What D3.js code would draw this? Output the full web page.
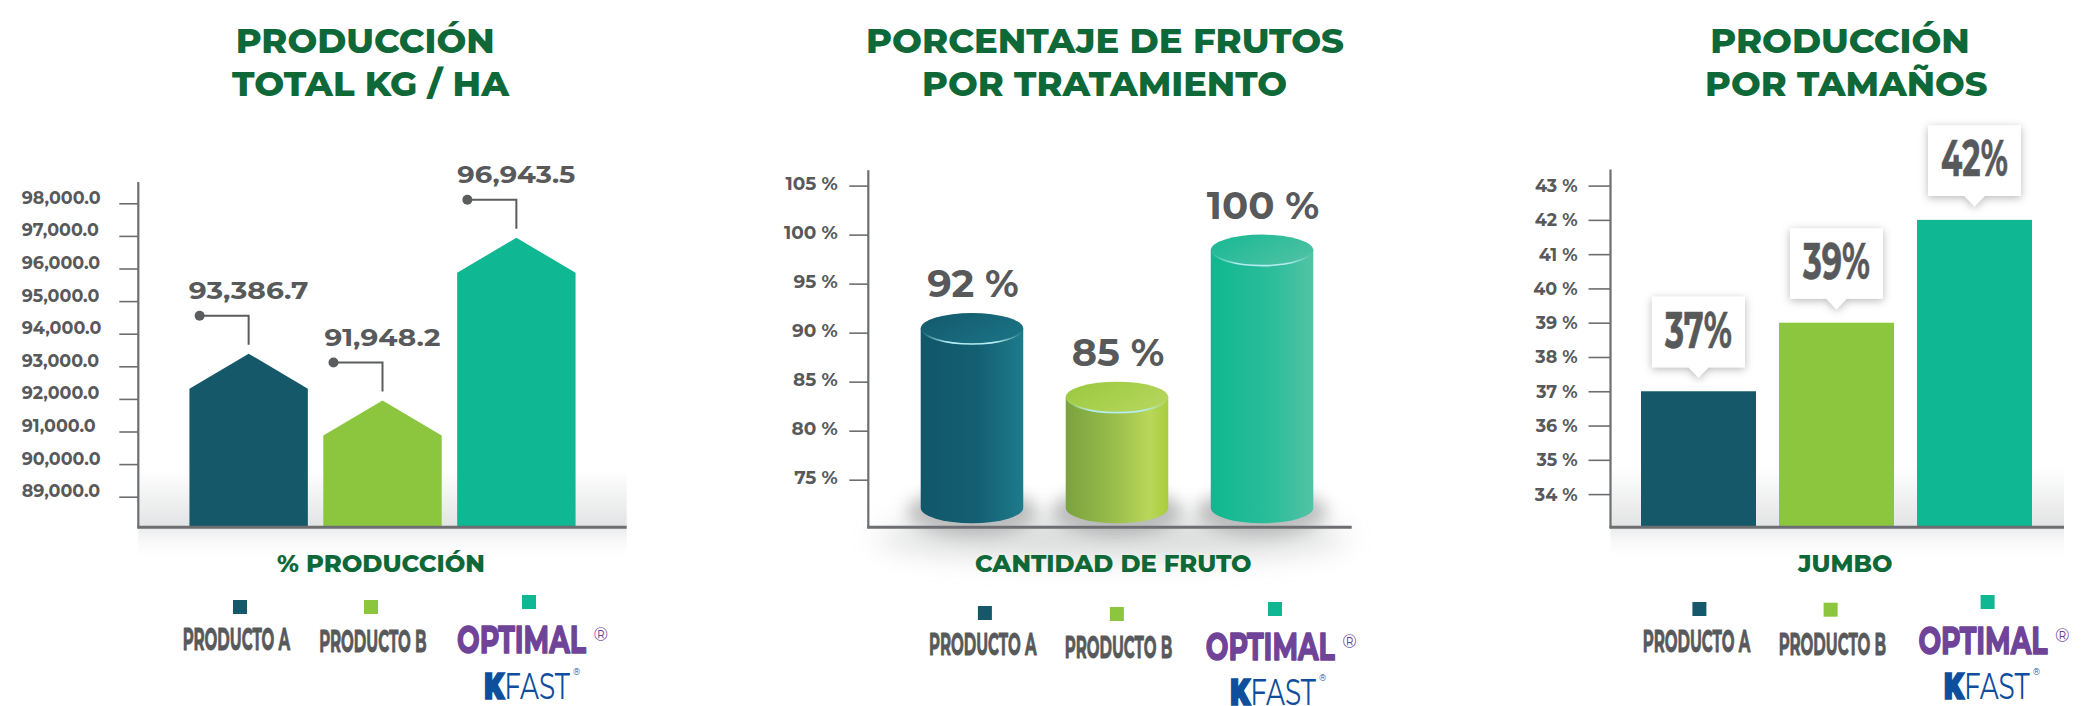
<!DOCTYPE html>
<html>
<head>
<meta charset="utf-8">
<script src="https://cdn.jsdelivr.net/npm/d3@7"></script>
<style>
  html, body { margin: 0; padding: 0; background: #fff; }
  svg { display: block; }
  text { font-family: "Montserrat", "Open Sans", sans-serif; }
</style>
</head>
<body>
<div id="root"></div>
<script>
// ---- datos ----
const products = ["PRODUCTO A", "PRODUCTO B", "OPTIMAL"];
const productColors = ["#14586a", "#8cc63f", "#0fb792"];

const kgValues = [93386.7, 91948.2, 96943.5];
const kgTicks = [89000, 90000, 91000, 92000, 93000, 94000, 95000, 96000, 97000, 98000];

const fruitValues = [92, 85, 100];
const fruitTicks = [75, 80, 85, 90, 95, 100, 105];

const jumboValues = [37, 39, 42];
const jumboTicks = [34, 35, 36, 37, 38, 39, 40, 41, 42, 43];

const titles = [
  ["PRODUCCIÓN", "TOTAL KG / HA"],
  ["PORCENTAJE DE FRUTOS", "POR TRATAMIENTO"],
  ["PRODUCCIÓN", "POR TAMAÑOS"]
];
const axisTitles = ["% PRODUCCIÓN", "CANTIDAD DE FRUTO", "JUMBO"];

// ---- estilos ----
const green = "#0e6838";
const labelGray = "#58595b";
const axisGray = "#6d6e71";
const baseY = 527.3;
const condensed = "'Liberation Sans Narrow', 'Roboto Condensed', 'Roboto', sans-serif";

window.onload = function() {
  init();
};

let fit = (sel, w) => sel.attr("textLength", w).attr("lengthAdjust", "spacingAndGlyphs");
// engrosar letra condensada
let heavy = (sel, c, sw) => sel.attr("stroke", c).attr("stroke-width", sw).attr("stroke-linejoin", "round");

let init = () => {
  const svg = d3
    .select("#root")
    .append("svg")
    .attr("width", 2095)
    .attr("height", 706);
  const defs = svg.append("defs");

  // sombras
  defs.append("filter").attr("id", "blur8")
    .attr("x", "-50%").attr("y", "-50%").attr("width", "200%").attr("height", "200%")
    .append("feGaussianBlur").attr("stdDeviation", 8);
  defs.append("filter").attr("id", "blur14")
    .attr("x", "-50%").attr("y", "-100%").attr("width", "200%").attr("height", "300%")
    .append("feGaussianBlur").attr("stdDeviation", 14);
  defs.append("filter").attr("id", "boxShadow")
    .attr("x", "-30%").attr("y", "-30%").attr("width", "160%").attr("height", "160%")
    .append("feDropShadow")
    .attr("dx", 0).attr("dy", 2).attr("stdDeviation", 4)
    .attr("flood-color", "#000").attr("flood-opacity", 0.28);

  let vGrad = (id, stops) => {
    const lg = defs.append("linearGradient").attr("id", id)
      .attr("x1", 0).attr("y1", 0).attr("x2", 0).attr("y2", 1);
    stops.forEach(s => lg.append("stop").attr("offset", s[0]).attr("stop-color", s[1]).attr("stop-opacity", s[2]));
  };
  vGrad("floorUp", [[0, "#e2e3e4", 0], [1, "#e2e3e4", 1]]);
  vGrad("floorDown", [[0, "#e9eaeb", 1], [1, "#ffffff", 0]]);

  // degradados de los cilindros
  const cylBody = [
    [[0, "#12566a"], [0.55, "#135f72"], [1, "#1d7b8b"]],
    [[0, "#7aa23e"], [0.5, "#9cbf4c"], [0.82, "#b9d75a"], [1, "#a8cd3c"]],
    [[0, "#0fb78f"], [0.6, "#2cbd9b"], [1, "#52c3a5"]]
  ];
  const cylTop = [
    [[0, "#13586b"], [1, "#1a7183"]],
    [[0, "#99c93e"], [1, "#b5d55c"]],
    [[0, "#16b893"], [1, "#4bc1a3"]]
  ];
  cylBody.forEach((st, i) => {
    const lg = defs.append("linearGradient").attr("id", "cylBody" + i);
    st.forEach(s => lg.append("stop").attr("offset", s[0]).attr("stop-color", s[1]));
  });
  cylTop.forEach((st, i) => {
    const lg = defs.append("linearGradient").attr("id", "cylTop" + i)
      .attr("x1", 0).attr("y1", 0).attr("x2", 1).attr("y2", 0.6);
    st.forEach(s => lg.append("stop").attr("offset", s[0]).attr("stop-color", s[1]));
  });
  const hl = defs.append("linearGradient").attr("id", "hiLine");
  [[0, 0], [0.25, 1], [0.75, 1], [1, 0]].forEach(s =>
    hl.append("stop").attr("offset", s[0]).attr("stop-color", "#b5ecf2").attr("stop-opacity", s[1]));

  drawKg(svg.append("g"));
  drawFruit(svg.append("g"));
  drawJumbo(svg.append("g"));
};

// titulo de dos lineas
let drawTitle = (g, lines, cx, widths, fs) => {
  lines.forEach((t, i) => {
    g.append("text")
      .attr("x", cx[i]).attr("y", [53.2, 95.5][i])
      .attr("text-anchor", "middle")
      .attr("fill", green)
      .attr("font-size", fs)
      .attr("font-weight", 800)
      .text(t)
      .call(fit, widths[i]);
  });
};

let drawAxisTitle = (g, t, cx, w) => {
  g.append("text")
    .attr("x", cx).attr("y", 571.5)
    .attr("text-anchor", "middle")
    .attr("fill", green)
    .attr("font-size", 23)
    .attr("font-weight", 800)
    .text(t)
    .call(fit, w);
};

let drawFrame = (g, x0, x1, top) => {
  g.append("line").attr("x1", x0).attr("x2", x0).attr("y1", top).attr("y2", baseY + 1)
    .attr("stroke", axisGray).attr("stroke-width", 2.2);
  g.append("line").attr("x1", x0 - 1).attr("x2", x1).attr("y1", baseY).attr("y2", baseY)
    .attr("stroke", axisGray).attr("stroke-width", 3);
};

let drawYAxis = (g, y, ticks, x0, size, fmt, fs, align) => {
  const ax = g.append("g")
    .attr("transform", `translate(${x0},0)`)
    .call(d3.axisLeft(y).tickValues(ticks).tickSize(size).tickFormat(fmt));
  ax.select(".domain").remove();
  ax.selectAll(".tick line").attr("stroke", axisGray).attr("stroke-width", 1.6);
  const tx = ax.selectAll(".tick text")
    .attr("fill", labelGray)
    .attr("font-size", fs)
    .attr("font-weight", 700)
    .attr("font-family", "'Montserrat', 'Open Sans', sans-serif")
    .attr("dy", align.dy);
  if (align.left != null) tx.attr("text-anchor", "start").attr("x", align.left - x0);
  else tx.attr("x", -size - align.pad);
};

let drawFloor = (g, x0, x1, top) => {
  g.append("rect").attr("x", x0).attr("y", top).attr("width", x1 - x0).attr("height", baseY - top)
    .attr("fill", "url(#floorUp)");
  g.append("rect").attr("x", x0).attr("y", baseY).attr("width", x1 - x0).attr("height", 34)
    .attr("fill", "url(#floorDown)");
};

// leyenda
let drawLegend = (g, L) => {
  products.forEach((p, i) => {
    g.append("rect")
      .attr("x", L.sq[i] - 7).attr("y", L.sqY[i])
      .attr("width", 14).attr("height", 14)
      .attr("fill", productColors[i]);
  });
  [0, 1].forEach(i => {
    g.append("text")
      .attr("x", L.lab[i]).attr("y", L.labY[i])
      .attr("text-anchor", "middle")
      .attr("fill", labelGray)
      .attr("font-family", condensed)
      .attr("font-weight", 700)
      .attr("font-size", 30)
      .text(products[i])
      .call(fit, 107.5)
      .call(heavy, labelGray, 0.9);
  });
  g.append("text")
    .attr("x", L.lab[2]).attr("y", L.labY[2])
    .attr("text-anchor", "middle")
    .attr("fill", "#6e4398")
    .attr("font-family", condensed)
    .attr("font-weight", 700)
    .attr("font-size", 39)
    .text(products[2])
    .call(fit, 129)
    .call(heavy, "#6e4398", 1.6);
  g.append("text")
    .attr("x", L.lab[2] + 72).attr("y", L.labY[2] - 12)
    .attr("fill", "#6e4398")
    .attr("font-family", "'DejaVu Sans', sans-serif")
    .attr("font-size", 18)
    .text("®");
  const kf = g.append("text")
    .attr("x", L.kfastX).attr("y", L.kfastY)
    .attr("text-anchor", "middle")
    .attr("fill", "#0f4e9c")
    .attr("font-family", condensed)
    .attr("font-size", 38);
  kf.append("tspan").attr("font-weight", 900).attr("stroke", "#0f4e9c").attr("stroke-width", 1.6).text("K");
  kf.append("tspan").attr("font-weight", 400).text("FAST");
  kf.call(fit, 86);
  g.append("text")
    .attr("x", L.kfastX + 46).attr("y", L.kfastY - 24)
    .attr("fill", "#0f4e9c")
    .attr("font-family", "'DejaVu Sans', sans-serif")
    .attr("font-size", 9)
    .text("®");
};

// ---- grafica 1: produccion total ----
let drawKg = g => {
  const x0 = 138.3, x1 = 626.7;
  const y = d3.scaleLinear().domain([89000, 98000]).range([496.7, 203.3]);
  const x = d3.scaleBand().domain(products).range([x0, x1])
    .paddingInner(0.1154).paddingOuter(0.382);

  drawTitle(g, titles[0], [365.2, 370.5], [259, 277], 35);
  drawFloor(g, x0, x1, 470);
  drawYAxis(g, y, kgTicks, x0, 19, d3.format(",.1f"), 17.5, { left: 21.7, dy: 0 });

  const house = (d, i) => {
    const bx = x(products[i]), w = x.bandwidth(), py = y(d);
    return `M${bx},${baseY} V${py + 35} L${bx + w / 2},${py} L${bx + w},${py + 35} V${baseY} Z`;
  };
  g.selectAll(".bar").data(kgValues).join("path")
    .attr("class", "bar")
    .attr("d", house)
    .attr("fill", (d, i) => productColors[i]);

  drawFrame(g, x0, x1, 182);

  const fmt = d3.format(",.1f");
  const call = g.selectAll(".call").data(kgValues).join("g").attr("class", "call");
  call.append("path")
    .attr("d", (d, i) => {
      const cx = x(products[i]) + x.bandwidth() / 2, py = y(d);
      return `M${cx - 49},${py - 38} H${cx} V${py - 9}`;
    })
    .attr("fill", "none").attr("stroke", "#5b5c5e").attr("stroke-width", 2);
  call.append("circle")
    .attr("cx", (d, i) => x(products[i]) + x.bandwidth() / 2 - 49)
    .attr("cy", d => y(d) - 38)
    .attr("r", 5)
    .attr("fill", "#5b5c5e");
  call.append("text")
    .attr("x", (d, i) => x(products[i]) + x.bandwidth() / 2)
    .attr("y", d => y(d) - 55)
    .attr("text-anchor", "middle")
    .attr("fill", labelGray)
    .attr("font-size", 24)
    .attr("font-weight", 700)
    .text(d => fmt(d))
    .each(function(d, i) { d3.select(this).call(fit, [119.5, 116, 118][i]); });

  drawAxisTitle(g, axisTitles[0], 381, 208);
  drawLegend(g, {
    sq: [240, 371, 529], sqY: [600, 600, 595],
    lab: [236.4, 372.9, 521.5], labY: [650, 651.7, 653.3],
    kfastX: 527, kfastY: 699.3
  });
};

// ---- grafica 2: porcentaje de frutos ----
let drawFruit = g => {
  const x0 = 868.3, x1 = 1351.7;
  const y = d3.scaleLinear().domain([75, 105]).range([479.7, 185.6]);
  const x = d3.scaleBand().domain(products).range([920.7, 1313.3])
    .paddingInner(0.293).paddingOuter(0);
  const ry = 15.5;
  const bottomC = baseY - 4 - ry;

  drawTitle(g, titles[1], [1105, 1104.5], [478, 365], 34.5);

  // sombra bajo el eje
  g.append("ellipse").attr("cx", 1112).attr("cy", 538).attr("rx", 235).attr("ry", 20)
    .attr("fill", "#c9cacb").attr("opacity", 0.7).attr("filter", "url(#blur14)");

  drawYAxis(g, y, fruitTicks, x0, 19, d => d + " %", 18.5, { pad: 11.5, dy: 3.5 });

  const cyl = g.selectAll(".cyl").data(fruitValues).join("g").attr("class", "cyl");
  // sombra de la base
  cyl.append("ellipse")
    .attr("cx", (d, i) => x(products[i]) + x.bandwidth() / 2)
    .attr("cy", bottomC + 4)
    .attr("rx", x.bandwidth() / 2 + 14)
    .attr("ry", ry + 8)
    .attr("fill", "#8f9091").attr("opacity", 0.55)
    .attr("filter", "url(#blur8)");
  cyl.append("path")
    .attr("d", (d, i) => {
      const bx = x(products[i]), w = x.bandwidth(), top = y(d) + ry;
      return `M${bx},${top} V${bottomC} A${w / 2},${ry} 0 0 0 ${bx + w},${bottomC} V${top} Z`;
    })
    .attr("fill", (d, i) => `url(#cylBody${i})`);
  cyl.append("ellipse")
    .attr("cx", (d, i) => x(products[i]) + x.bandwidth() / 2)
    .attr("cy", d => y(d) + ry)
    .attr("rx", x.bandwidth() / 2)
    .attr("ry", ry)
    .attr("fill", (d, i) => `url(#cylTop${i})`);
  cyl.append("path")
    .attr("d", (d, i) => {
      const bx = x(products[i]), w = x.bandwidth(), c = y(d) + ry;
      return `M${bx + 1},${c} A${w / 2 - 1},${ry} 0 0 0 ${bx + w - 1},${c}`;
    })
    .attr("fill", "none").attr("stroke", "url(#hiLine)").attr("stroke-width", 1.6);
  cyl.append("text")
    .attr("x", (d, i) => x(products[i]) + x.bandwidth() / 2 + 1)
    .attr("y", d => y(d) - 16)
    .attr("text-anchor", "middle")
    .attr("fill", labelGray)
    .attr("font-size", 38)
    .attr("font-weight", 700)
    .text(d => d + " %")
    .each(function(d, i) { d3.select(this).call(fit, [91.5, 92.4, 112.5][i]); });

  drawFrame(g, x0, x1, 170.3);
  drawAxisTitle(g, axisTitles[1], 1113.3, 276.7);
  drawLegend(g, {
    sq: [984.9, 1116.9, 1275], sqY: [606, 607, 602],
    lab: [982.8, 1118.5, 1270.3], labY: [655.4, 657.7, 660],
    kfastX: 1273, kfastY: 705
  });
};

// ---- grafica 3: produccion por tamaños ----
let drawJumbo = g => {
  const x0 = 1610.5, x1 = 2064;
  const y = d3.scaleLinear().domain([34, 43]).range([494.1, 185.6]);
  const x = d3.scaleBand().domain(products).range([1641, 2032])
    .paddingInner(0.1667).paddingOuter(0);

  drawTitle(g, titles[2], [1840, 1846.3], [259.5, 282.5], 35);
  drawFloor(g, x0, x1, 468);
  drawYAxis(g, y, jumboTicks, x0, 22, d => d + " %", 17.5, { pad: 11, dy: 6 });

  g.selectAll(".bar").data(jumboValues).join("rect")
    .attr("class", "bar")
    .attr("x", (d, i) => x(products[i]))
    .attr("y", d => y(d))
    .attr("width", x.bandwidth())
    .attr("height", d => baseY - y(d))
    .attr("fill", (d, i) => productColors[i]);

  drawFrame(g, x0, x1, 169.4);

  const bw = 93, bh = 70.5;
  const tip = g.selectAll(".tip").data(jumboValues).join("g").attr("class", "tip");
  tip.append("path")
    .attr("d", (d, i) => {
      const cx = x(products[i]) + x.bandwidth() / 2, b = y(d) - 24;
      return `M${cx - bw / 2},${b - bh} H${cx + bw / 2} V${b} H${cx + 10} L${cx},${b + 10.5} L${cx - 10},${b} H${cx - bw / 2} Z`;
    })
    .attr("fill", "#fff")
    .attr("filter", "url(#boxShadow)");
  tip.append("text")
    .attr("x", (d, i) => x(products[i]) + x.bandwidth() / 2)
    .attr("y", d => y(d) - 24 - bh + 51)
    .attr("text-anchor", "middle")
    .attr("fill", labelGray)
    .attr("font-family", condensed)
    .attr("font-weight", 700)
    .attr("font-size", 51)
    .text(d => d + "%")
    .call(fit, 67)
    .call(heavy, labelGray, 0.6);

  drawAxisTitle(g, axisTitles[2], 1845.2, 94.5);
  drawLegend(g, {
    sq: [1699.4, 1830.6, 1987.6], sqY: [602, 602.7, 595],
    lab: [1696.5, 1832.4, 1982.9], labY: [652, 655, 654],
    kfastX: 1986.7, kfastY: 699.3
  });
};
</script>
</body>
</html>
